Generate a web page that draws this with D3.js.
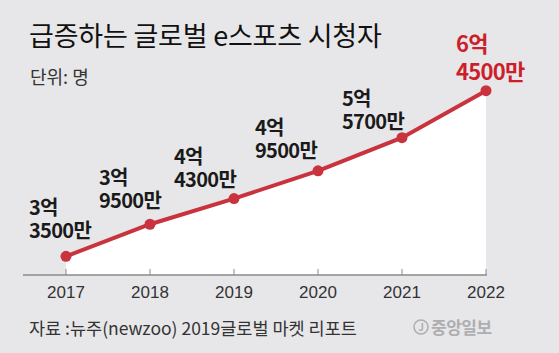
<!DOCTYPE html>
<html>
<head>
    <meta charset="utf-8">
    <script src="https://d3js.org/d3.v7.min.js"></script>
    <style>
        body { margin: 0; background: #e7e7e9; }
        svg { display: block; background: #e7e7e9; font-family: "Noto Sans CJK KR", "Noto Sans", sans-serif; }
        .val { font-size: 20px; font-weight: 700; fill: #1a1a1a; letter-spacing: -0.7px; }
        .val.last { font-size: 22px; fill: #cc1f2b; }
        .year { font-size: 17px; fill: #333; font-family: "Liberation Sans", Arial, sans-serif; }
    </style>
</head>
<body>
<div id="chart"></div>
<script>
const width = 559, height = 353;

// data (억 단위)
const years = ['2017', '2018', '2019', '2020', '2021', '2022'];
const viewers = [3.35, 3.95, 4.43, 4.95, 5.57, 6.45];
const labelTop = ['3억', '3억', '4억', '4억', '5억', '6억'];
const labelBottom = ['3500만', '9500만', '4300만', '9500만', '5700만', '4500만'];

const x = d3.scalePoint().domain(years).range([66, 486]);
const y = d3.scaleLinear().domain([3, 6.5]).range([275, 88]);

const svg = d3.select('#chart').append('svg')
    .attr('width', width)
    .attr('height', height);

// title
svg.append('text').attr('x', 29).attr('y', 46)
    .style('font-size', '27px').style('fill', '#111').style('letter-spacing', '-0.2px')
    .text('급증하는 글로벌 e스포츠 시청자');
svg.append('text').attr('x', 30).attr('y', 84)
    .style('font-size', '18px').style('fill', '#333')
    .text('단위: 명');

const pts = years.map((d, i) => ({ year: d, v: viewers[i] }));

// white area under line
svg.append('path')
    .datum(pts)
    .attr('fill', '#fff')
    .attr('d', d3.area().x(d => x(d.year)).y0(y(3)).y1(d => y(d.v)));

// axis
const axis = svg.append('g').attr('transform', `translate(0,${y(3)})`);
axis.append('line').attr('x1', 23).attr('x2', 487)
    .attr('stroke', '#8a8a8a').attr('stroke-width', 1.5);
axis.selectAll('.tick').data(years).join('line')
    .attr('x1', d => x(d)).attr('x2', d => x(d))
    .attr('y1', 0).attr('y2', -6)
    .attr('stroke', '#8a8a8a').attr('stroke-width', 1);
axis.selectAll('.year').data(years).join('text')
    .attr('class', 'year')
    .attr('x', d => x(d)).attr('y', 23)
    .attr('text-anchor', 'middle')
    .text(d => d);

// line
svg.append('path')
    .datum(pts)
    .attr('fill', 'none')
    .attr('stroke', '#c8333d')
    .attr('stroke-width', 4)
    .attr('d', d3.line().x(d => x(d.year)).y(d => y(d.v)));

svg.selectAll('.dot').data(pts).join('circle')
    .attr('cx', d => x(d.year)).attr('cy', d => y(d.v))
    .attr('r', 5.5).attr('fill', '#c8333d');

// value labels, offsets relative to points
const dx = [-37, -51, -60, -63, -60, -30];
const dy = [-18, -16, -12, -13, -9, -11];
const gap = [23, 23, 23, 23, 23, 28];
const cls = (i) => i === pts.length - 1 ? 'val last' : 'val';

svg.selectAll('.top').data(pts).join('text')
    .attr('class', (d, i) => cls(i))
    .attr('x', (d, i) => x(d.year) + dx[i])
    .attr('y', (d, i) => y(d.v) + dy[i] - gap[i])
    .text((d, i) => labelTop[i]);
svg.selectAll('.bottom').data(pts).join('text')
    .attr('class', (d, i) => cls(i))
    .attr('x', (d, i) => x(d.year) + dx[i])
    .attr('y', (d, i) => y(d.v) + dy[i])
    .text((d, i) => labelBottom[i]);

// source
svg.append('text').attr('x', 29).attr('y', 335)
    .style('font-size', '17.5px').style('fill', '#333')
    .text('자료 :뉴주(newzoo) 2019글로벌 마켓 리포트');

// logo
const logo = svg.append('g').attr('fill', '#aeaeb0');
logo.append('circle').attr('cx', 421).attr('cy', 327).attr('r', 7)
    .attr('fill', 'none').attr('stroke', '#aeaeb0').attr('stroke-width', 1.5);
logo.append('text').attr('x', 421).attr('y', 331).attr('text-anchor', 'middle')
    .style('font-size', '10px').style('font-weight', 700).text('J');
logo.append('text').attr('x', 431).attr('y', 334)
    .style('font-size', '17px').style('font-weight', 700).style('letter-spacing', '-0.5px')
    .text('중앙일보');
</script>
</body>
</html>
